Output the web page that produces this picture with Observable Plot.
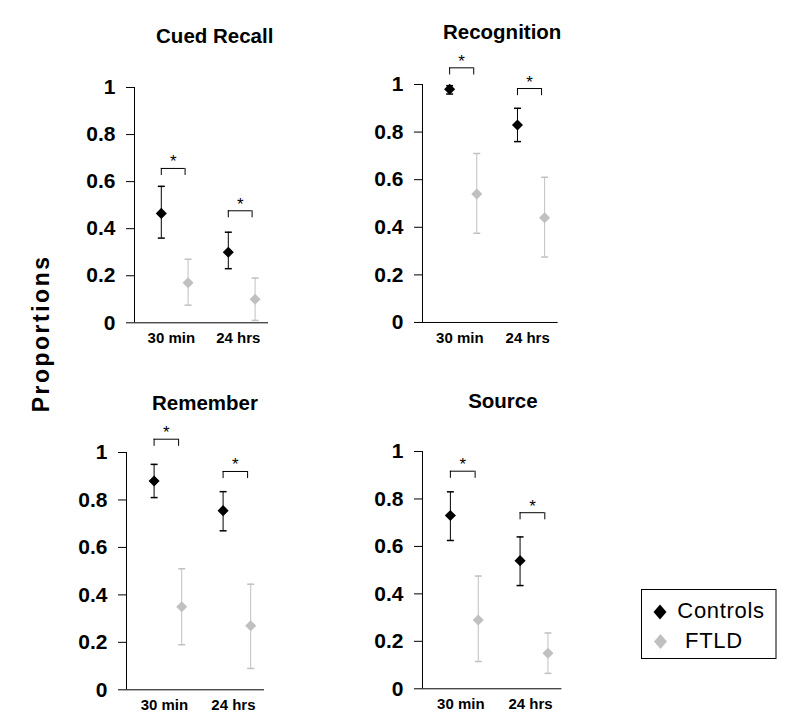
<!DOCTYPE html>
<html><head><meta charset="utf-8">
<script src="https://cdn.jsdelivr.net/npm/d3@7"></script>
<script src="https://cdn.jsdelivr.net/npm/@observablehq/plot@0.6"></script>
<style>
body{margin:0;background:#fff;}
#chart{position:relative;width:790px;height:719px;font-family:Arial,"Liberation Sans",sans-serif;overflow:hidden;}
.panel{position:absolute;}
#overlay{position:absolute;left:0;top:0;pointer-events:none;}
</style></head><body><div id="chart"></div>
<script>
// ---- data ----
const panels = ["Cued Recall", "Recognition", "Remember", "Source"];
const times = ["30 min", "24 hrs"];
const groups = ["Controls", "FTLD"];
const groupColors = ["#000000", "#c0c0c0"];
const yTicks = [0, 0.2, 0.4, 0.6, 0.8, 1];
const yLabel = "Proportions";
// per panel: [30 min, 24 hrs]
const controlsMean = [[0.465, 0.30], [0.98, 0.83], [0.88, 0.755], [0.73, 0.54]];
const controlsLow  = [[0.36, 0.23], [0.96, 0.76], [0.81, 0.67], [0.625, 0.435]];
const controlsHigh = [[0.58, 0.385], [0.995, 0.90], [0.95, 0.835], [0.83, 0.64]];
const ftldMean = [[0.17, 0.10], [0.54, 0.44], [0.35, 0.27], [0.29, 0.15]];
const ftldLow  = [[0.075, 0.01], [0.375, 0.275], [0.19, 0.09], [0.115, 0.065]];
const ftldHigh = [[0.27, 0.19], [0.71, 0.61], [0.51, 0.445], [0.475, 0.235]];
const sigBracket = [[0.656, 0.476], [1.07, 0.983], [1.056, 0.92], [0.917, 0.742]];
const sigLabel = "*";

// ---- layout ----
const layout = [
  {left: 134, right: 268, top: 86.7, bottom: 322, titleX: 214.2, titleBase: 42},
  {left: 422.3, right: 558, top: 84.3, bottom: 322.3, titleX: 502, titleBase: 38.7},
  {left: 126, right: 264, top: 451.7, bottom: 689, titleX: 204.5, titleBase: 409.7},
  {left: 422.3, right: 561.7, top: 451, bottom: 688.3, titleX: 502.7, titleBase: 408}
];
const M = {top: 70, right: 20, bottom: 40, left: 75};
const groupOffset = [0.4, 0.8];
const tickPos = 0.55;
const bracketSpan = 0.355;
const legLen = 0.03;
const font = "Arial, 'Liberation Sans', sans-serif";

const capSymbol = {draw(ctx) { ctx.moveTo(-3.5, 0); ctx.lineTo(3.5, 0); }};

const chart = document.getElementById("chart");

panels.forEach((name, p) => {
  const L = layout[p];
  const rows = [];
  times.forEach((t, i) => {
    groups.forEach((g, k) => {
      rows.push({
        time: t, group: g, x: i + groupOffset[k],
        mean: (k === 0 ? controlsMean : ftldMean)[p][i],
        low: (k === 0 ? controlsLow : ftldLow)[p][i],
        high: (k === 0 ? controlsHigh : ftldHigh)[p][i]
      });
    });
  });
  const brackets = times.map((t, i) => ({
    time: t, x1: i + groupOffset[0], x2: i + groupOffset[0] + bracketSpan, y: sigBracket[p][i]
  }));

  const plot = Plot.plot({
    width: M.left + (L.right - L.left) + M.right,
    height: M.top + (L.bottom - L.top) + M.bottom,
    marginLeft: M.left, marginRight: M.right, marginTop: M.top, marginBottom: M.bottom,
    style: {background: "transparent", overflow: "visible", fontFamily: font, maxWidth: "none", color: "#000"},
    x: {type: "linear", domain: [0, 2], axis: null},
    y: {domain: [0, 1], axis: null},
    color: {domain: groups, range: groupColors},
    marks: [
      Plot.axisY({ticks: yTicks, tickFormat: d => String(d), tickSize: 8, tickPadding: 11,
        fontSize: 21, fontWeight: "bold", label: null, stroke: "#000"}),
      Plot.axisX({ticks: times.map((t, i) => i + tickPos), tickFormat: v => times[Math.round(v - tickPos)],
        tickSize: 0, tickPadding: 10, fontSize: 15, fontWeight: "bold", label: null}),
      Plot.ruleX([0], {y1: 0, y2: 1, stroke: "#000"}),
      Plot.ruleY([0], {x1: 0, x2: 2, stroke: "#000"}),
      Plot.ruleX(rows, {x: "x", y1: "low", y2: "high", stroke: "group"}),
      Plot.dot(rows, {x: "x", y: "low", symbol: capSymbol, stroke: "group", fill: "none", r: 3}),
      Plot.dot(rows, {x: "x", y: "high", symbol: capSymbol, stroke: "group", fill: "none", r: 3}),
      Plot.dot(rows, {x: "x", y: "mean", symbol: "diamond2", fill: "group", stroke: "none", r: 5}),
      Plot.ruleY(brackets, {y: "y", x1: "x1", x2: "x2", stroke: "#000"}),
      Plot.ruleX(brackets, {x: "x1", y1: "y", y2: d => d.y - legLen, stroke: "#000"}),
      Plot.ruleX(brackets, {x: "x2", y1: "y", y2: d => d.y - legLen, stroke: "#000"}),
      Plot.text(brackets, {x: d => (d.x1 + d.x2) / 2, y: "y", text: () => sigLabel,
        lineAnchor: "bottom", dy: -1, fontSize: 17, fill: "#000"}),
      Plot.text([name], {frameAnchor: "top", lineAnchor: "bottom", text: d => d,
        dy: L.titleBase - L.top, dx: L.titleX - (L.left + L.right) / 2,
        fontSize: 20.5, fontWeight: "bold", fill: "#000"})
    ]
  });
  const wrap = document.createElement("div");
  wrap.className = "panel";
  wrap.style.left = (L.left - M.left) + "px";
  wrap.style.top = (L.top - M.top) + "px";
  wrap.appendChild(plot);
  chart.appendChild(wrap);
});

// overlay: y label and legend
const svg = d3.select(chart).append("svg").attr("id", "overlay")
  .attr("width", 790).attr("height", 719).style("font-family", font);
svg.append("text")
  .attr("transform", "translate(49,333.4) rotate(-90)")
  .attr("text-anchor", "middle")
  .attr("font-size", 23).attr("font-weight", "bold").attr("letter-spacing", "2.5px")
  .text(yLabel);

const lg = svg.append("g");
lg.append("rect").attr("x", 641.5).attr("y", 589.5).attr("width", 134.5).attr("height", 69)
  .attr("fill", "#fff").attr("stroke", "#000").attr("stroke-width", 1);
const legendItems = groups.map((g, k) => ({g, color: groupColors[k]}));
const legendPos = [{cx: 660, cy: 612, tx: 677.3, ty: 618.3}, {cx: 660.5, cy: 641.5, tx: 685, ty: 648.3}];
legendItems.forEach((d, k) => {
  const P = legendPos[k];
  lg.append("path")
    .attr("d", `M${P.cx},${P.cy - 7.5}L${P.cx + 6.5},${P.cy}L${P.cx},${P.cy + 7.5}L${P.cx - 6.5},${P.cy}Z`)
    .attr("fill", d.color);
  lg.append("text").attr("x", P.tx).attr("y", P.ty)
    .attr("font-size", 22).attr("letter-spacing", "0.7px").attr("fill", "#000").text(d.g);
});
</script></body></html>
